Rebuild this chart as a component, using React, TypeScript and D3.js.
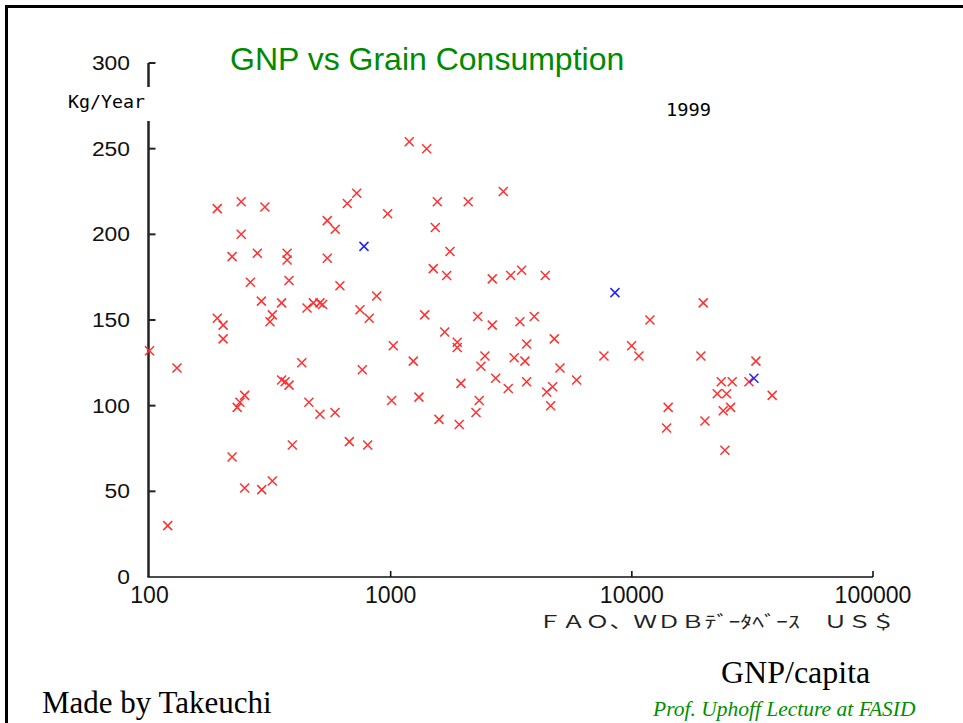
import React from 'react';
import * as d3 from 'd3';

// GNP per capita (US$) vs grain consumption (kg/year), 1999
const redGnp = [
  100, 130, 119, 191, 191, 202, 202, 220, 240, 240, 220, 231, 237, 248, 248, 262, 280, 291, 292, 301,
  323, 323, 316, 353, 353, 365, 379, 372, 372, 379, 391, 428, 450, 478, 509, 522, 458, 509, 546, 546,
  589, 588, 616, 661, 723, 674, 746, 815, 763, 803, 875, 972, 1009, 1025, 1194, 1241, 1310, 1384, 1410,
  1502, 1531, 1561, 1586, 1675, 1707, 1762, 1888, 1888, 1925, 1956, 2097, 2258, 2295, 2330, 2368, 2460,
  2638, 2638, 2725, 2931, 3073, 3144, 3253, 3436, 3492, 3604, 3663, 3663, 3938, 4375, 4436, 4608, 4696,
  4769, 5036, 5903, 7661, 9980, 10700, 11890, 13940, 14150, 19340, 19770, 20100, 22600, 24720, 23480,
  26080, 23930, 25680, 24320, 30590, 32700, 38200,
];
const redGrain = [
  132, 122, 30, 215, 151, 147, 139, 187, 219, 200, 70, 99, 102, 106, 52, 172, 189, 161, 51, 216,
  56, 153, 149, 160, 115, 114, 112, 189, 185, 173, 77, 125, 157, 160, 160, 159, 102, 95, 208, 186,
  203, 96, 170, 218, 224, 79, 156, 151, 121, 77, 164, 212, 103, 135, 254, 126, 105, 153, 250,
  180, 204, 219, 92, 143, 176, 190, 137, 134, 89, 113, 219, 96, 152, 103, 123, 129,
  174, 147, 116, 225, 110, 176, 128, 149, 179, 126, 136, 114, 152, 176, 108, 100, 111,
  139, 122, 115, 129, 135, 129, 150, 87, 99, 129, 160, 91, 107, 107, 114,
  114, 97, 99, 74, 114, 126, 106,
];
const blueGnp = [775, 8511, 32080];
const blueGrain = [193, 166, 116];

const xTicks = [100, 1000, 10000, 100000];
const yTicks = [0, 50, 100, 150, 200, 250, 300];

const W = 963;
const H = 723;

const x = d3.scaleLog().domain([100, 100000]).range([149.5, 873]);
const y = d3.scaleLinear().domain([0, 300]).range([577, 63]);

const cross = (cx: number, cy: number, r: number) =>
  `M${cx - r},${cy - r}L${cx + r},${cy + r}M${cx - r},${cy + r}L${cx + r},${cy - r}`;

export default function App() {
  const x0 = x(100);
  const yLabelGap = [87, 121];

  return (
    <div style={{ position: 'absolute', left: 0, top: 0 }}>
      <svg width={W} height={H} style={{ display: 'block', background: '#fff' }}>
        {/* slide frame */}
        <rect x={6.5} y={6.5} width={W + 20} height={H + 20} fill='none' stroke='#000' strokeWidth={3} />

        <text x={230} y={70} fontFamily='Liberation Sans, Arial, sans-serif' fontSize={32} fill='#008a00'>
          GNP vs Grain Consumption
        </text>

        {/* y axis */}
        <g stroke='#222' strokeWidth={2.5}>
          <line x1={x0 - 1} x2={x0 - 1} y1={y(0)} y2={yLabelGap[1]} />
          <line x1={x0 - 1} x2={x0 - 1} y1={yLabelGap[0]} y2={y(300)} />
          {yTicks.slice(1).map((t) => (
            <line key={t} x1={x0 - 1} x2={x0 + 6} y1={y(t)} y2={y(t)} strokeWidth={2} />
          ))}
        </g>
        {yTicks.map((t) => (
          <text
            key={t}
            x={130}
            y={y(t)}
            dy='0.35em'
            textAnchor='end'
            fontFamily='Liberation Sans, Arial, sans-serif'
            fontSize={20}
            textLength={String(t).length * 12.7}
            lengthAdjust='spacingAndGlyphs'
            fill='#111'
          >
            {t}
          </text>
        ))}
        <text
          x={68}
          y={102}
          dy='0.35em'
          fontFamily='DejaVu Sans Mono, monospace'
          fontSize={17}
          textLength={77}
          lengthAdjust='spacingAndGlyphs'
        >
          Kg/Year
        </text>

        {/* x axis */}
        <g stroke='#111' strokeWidth={1.6}>
          <line x1={x0 - 2} x2={x(100000)} y1={y(0)} y2={y(0)} />
          {xTicks.slice(1).map((t) => (
            <line key={t} x1={x(t)} x2={x(t)} y1={y(0)} y2={y(0) - 6} />
          ))}
        </g>
        {xTicks.map((t) => (
          <text
            key={t}
            x={x(t)}
            y={603}
            textAnchor='middle'
            fontFamily='Liberation Sans, Arial, sans-serif'
            fontSize={24}
            textLength={String(t).length * 12.8}
            lengthAdjust='spacingAndGlyphs'
            fill='#111'
          >
            {d3.format('d')(t)}
          </text>
        ))}

        <text
          x={666}
          y={110}
          dy='0.35em'
          fontFamily='DejaVu Sans Mono, monospace'
          fontSize={17}
          textLength={45}
          lengthAdjust='spacingAndGlyphs'
        >
          1999
        </text>

        {/* points */}
        <g fill='none' stroke='#ff3030' strokeWidth={1.5}>
          {redGnp.map((g, i) => (
            <path key={i} d={cross(x(g), y(redGrain[i]), 4.5)} />
          ))}
        </g>
        <g fill='none' stroke='#2626ff' strokeWidth={1.6}>
          {blueGnp.map((g, i) => (
            <path key={i} d={cross(x(g), y(blueGrain[i]), 4.5)} />
          ))}
        </g>

        <text
          x={538}
          y={622}
          dy='0.35em'
          fontFamily='Noto Sans CJK JP, sans-serif'
          fontSize={17}
          textLength={357}
          lengthAdjust='spacingAndGlyphs'
          fill='#222'
        >
          ＦＡＯ、ＷＤＢﾃﾞｰﾀﾍﾞｰｽ　ＵＳ＄
        </text>

        <text x={721} y={683} fontFamily='Liberation Serif, Times New Roman, serif' fontSize={32}>
          GNP/capita
        </text>
        <text x={42} y={713} fontFamily='Liberation Serif, Times New Roman, serif' fontSize={31}>
          Made by Takeuchi
        </text>
        <text
          x={653}
          y={716}
          fontFamily='Liberation Serif, Times New Roman, serif'
          fontStyle='italic'
          fontSize={21.5}
          fill='#009000'
        >
          Prof. Uphoff Lecture at FASID
        </text>
      </svg>
    </div>
  );
}
